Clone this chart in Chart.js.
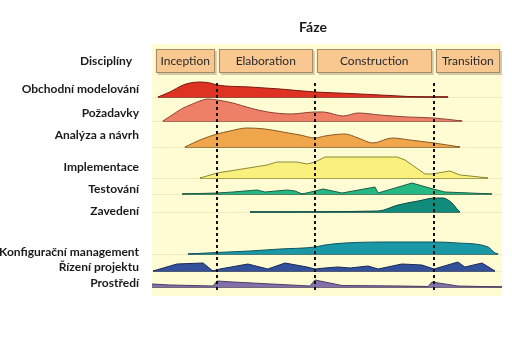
<!DOCTYPE html>
<html>
<head>
<meta charset="utf-8">
<script src="https://cdn.jsdelivr.net/npm/chart.js@4.4.1/dist/chart.umd.min.js"></script>
<style>
  html, body { margin: 0; padding: 0; background: #ffffff; }
  canvas { display: block; }
</style>
</head>
<body>
<canvas id="rup" width="512" height="341"></canvas>
<script>
// Phases of the project timeline (time in % of the project)
const phases = ['Inception', 'Elaboration', 'Construction', 'Transition'];
const phaseBounds = [0.5, 18.5, 46.5, 80.5, 100];

// Disciplines (rows)
const disciplines = [
  'Obchodní modelování', 'Požadavky', 'Analýza a návrh', 'Implementace',
  'Testování', 'Zavedení', 'Konfigurační management', 'Řízení projektu', 'Prostředí'
];

// Effort curves: time points and effort at each point
const obchodniT = [1.7, 5.1, 8.9, 10.9, 13.7, 16.6, 18.6, 28, 36.6, 46.6, 56.6, 68, 78, 84.6];
const obchodniH = [0, 0.5, 1.2, 1.4, 1.5, 1.4, 1.2, 1.0, 0.8, 0.5, 0.35, 0.15, 0, 0];

const pozadavkyT = [3.1, 6.6, 8.9, 10.9, 13.7, 16, 18.6, 23.1, 28, 33.1, 39.7, 46.6, 48.9, 54.6, 58.9, 65.1, 73.1, 80.6, 88.6];
const pozadavkyH = [0, 0.8, 1.3, 1.6, 2.0, 2.2, 2.1, 1.8, 1.3, 0.9, 0.7, 0.9, 0.9, 0.5, 0.8, 0.6, 0.4, 0.3, 0];

const analyzaT = [9.4, 13.7, 18.6, 22.3, 27.1, 32.3, 37.4, 42.3, 46.6, 49.4, 55.1, 58.9, 63.1, 68.6, 73.7, 80.6, 88];
const analyzaH = [0, 0.7, 1.3, 1.6, 1.9, 1.8, 1.5, 1.2, 0.9, 1.1, 1.3, 0.9, 0.4, 0.9, 0.7, 0.4, 0];

const implementaceT = [13.7, 18.6, 32.9, 35.7, 41.4, 44.3, 46.6, 49.4, 70, 72.3, 78, 80, 85.1, 88, 90.9, 96];
const implementaceH = [0, 0.5, 1.3, 1.6, 1.6, 1.4, 1.6, 2.1, 2.1, 1.8, 0.4, 0.4, 0.7, 0.3, 0.2, 0];

const testovaniT = [8.6, 18.6, 23.1, 30, 32.3, 38.6, 40.9, 42.9, 46.6, 48.9, 54.3, 63.7, 64.6, 74.3, 80.3, 83.7, 90.9, 97.1];
const testovaniH = [0, 0.1, 0.2, 0.4, 0.2, 0.4, 0.3, 0, 0.3, 0.5, 0.1, 0.7, 0.1, 1.1, 0.5, 0.2, 0.1, 0];

const zavedeniT = [28, 64.6, 70.3, 76, 80.9, 83.1, 85.7, 87.4, 88];
const zavedeniH = [0, 0.1, 0.7, 1.1, 1.4, 1.4, 0.9, 0.2, 0];

const konfiguraceT = [10.3, 18.6, 28, 36.6, 46.6, 49.4, 55.1, 68.6, 80.6, 87.4, 96, 98, 98.9];
const konfiguraceH = [0, 0.15, 0.3, 0.5, 0.7, 0.9, 1.1, 1.2, 1.2, 1.1, 0.7, 0.1, 0];

const rizeniT = [0.3, 7.1, 14.6, 17.4, 19.4, 27.4, 33.1, 38, 44.3, 46.6, 49.4, 53.1, 56.6, 61.7, 64.6, 71.4, 77.1, 80.6, 87.4, 89.4, 94.3, 98];
const rizeniH = [0, 0.7, 0.8, 0, 0.2, 0.7, 0.2, 0.8, 0.4, 0.2, 0.3, 0.4, 0.3, 0.5, 0.2, 0.7, 0.6, 0.2, 0.9, 0.4, 0.8, 0];

const prostrediT = [0, 5.1, 17.4, 18.6, 23.1, 45.1, 46.6, 49.4, 54.3, 70.9, 78.9, 80, 83.7, 87.4, 100];
const prostrediH = [0.3, 0.2, 0.1, 0.6, 0.5, 0.1, 0.7, 0.5, 0.15, 0.1, 0.05, 0.5, 0.3, 0.1, 0];

const curveTimes = [obchodniT, pozadavkyT, analyzaT, implementaceT, testovaniT, zavedeniT, konfiguraceT, rizeniT, prostrediT];
const curveEffort = [obchodniH, pozadavkyH, analyzaH, implementaceH, testovaniH, zavedeniH, konfiguraceH, rizeniH, prostrediH];

// Layout: vertical level of each row's baseline and its label
const rowBase = [19.9, 17.5, 14.9, 11.8, 10.2, 8.4, 4.2, 2.5, 0.9];
const labelLevel = [20.7, 18.3, 16.1, 12.9, 10.7, 8.5, 4.4, 2.9, 1.3];
const headerLevel = 23.5;
const phaseBoxTop = 24.7, phaseBoxBottom = 22.3;
const dashTop = 21.3, dashBottom = 0.4;

// Styles
const fills = ['#de3222', '#ee8068', '#f0a64a', '#f9f07e', '#26b882', '#118c7c', '#1a98a6', '#33509a', '#8270aa'];
const edges = ['#7a1a10', '#8e4434', '#8a5a22', '#8c8a34', '#1a5e44', '#0b4e46', '#0e5662', '#1a2a58', '#473e62'];
const smooth = [true, true, true, false, false, true, true, false, false];

const datasets = [];
disciplines.forEach((name, i) => {
  const base = rowBase[i];
  const t = curveTimes[i], h = curveEffort[i];
  datasets.push({
    label: name,
    data: t.map((x, j) => ({ x, y: base + h[j] })),
    fill: { value: base },
    backgroundColor: fills[i],
    borderColor: edges[i],
    borderWidth: 1,
    pointRadius: 0,
    cubicInterpolationMode: smooth[i] ? 'monotone' : 'default',
    tension: 0
  });
  datasets.push({
    label: name + ' (baseline)',
    data: [{ x: t[0], y: base }, { x: t[t.length - 1], y: base }],
    fill: false,
    borderColor: edges[i],
    borderWidth: 1.3,
    pointRadius: 0
  });
});

const FONT = 'Lato, "Liberation Sans", sans-serif';

const rupDecor = {
  id: 'rupDecor',
  beforeDraw(chart) {
    const { ctx, chartArea: a, scales: { y } } = chart;
    ctx.save();
    ctx.fillStyle = '#ffffff';
    ctx.fillRect(0, 0, chart.width, chart.height);
    ctx.fillStyle = '#fffcd4';
    ctx.fillRect(a.left, a.top, a.right - a.left, a.bottom - a.top);
    // faint guide lines at each row baseline
    ctx.strokeStyle = '#efebc0';
    ctx.lineWidth = 1;
    rowBase.forEach(b => {
      const py = Math.round(y.getPixelForValue(b)) + 0.5;
      ctx.beginPath();
      ctx.moveTo(a.left, py);
      ctx.lineTo(a.right, py);
      ctx.stroke();
    });
    // phase header boxes
    const top = y.getPixelForValue(phaseBoxTop), bot = y.getPixelForValue(phaseBoxBottom);
    const x = chart.scales.x;
    phases.forEach((p, i) => {
      const l = x.getPixelForValue(phaseBounds[i]) + 2;
      const r = x.getPixelForValue(phaseBounds[i + 1]) - 2;
      ctx.fillStyle = 'rgba(120,110,90,0.35)';
      ctx.fillRect(l + 2, top + 2, r - l, bot - top);
      ctx.fillStyle = '#f8c890';
      ctx.fillRect(l, top, r - l, bot - top);
      ctx.strokeStyle = '#a88a66';
      ctx.lineWidth = 1;
      ctx.strokeRect(Math.round(l) + 0.5, Math.round(top) + 0.5, Math.round(r - l) - 1, Math.round(bot - top) - 1);
      ctx.fillStyle = '#2a2a2a';
      ctx.font = '12px ' + FONT;
      ctx.textAlign = 'center';
      ctx.textBaseline = 'middle';
      ctx.fillText(p, (l + r) / 2, (top + bot) / 2);
    });
    ctx.restore();
  },
  afterDatasetsDraw(chart) {
    const { ctx, scales: { x, y } } = chart;
    ctx.save();
    ctx.strokeStyle = '#111111';
    ctx.lineWidth = 2;
    ctx.setLineDash([3, 3]);
    phaseBounds.slice(1, -1).forEach(b => {
      const px = Math.round(x.getPixelForValue(b));
      ctx.beginPath();
      ctx.moveTo(px, y.getPixelForValue(dashTop));
      ctx.lineTo(px, y.getPixelForValue(dashBottom));
      ctx.stroke();
    });
    ctx.restore();
  },
  afterDraw(chart) {
    const { ctx, chartArea: a, scales: { y } } = chart;
    ctx.save();
    ctx.fillStyle = '#1a1a1a';
    ctx.textBaseline = 'middle';
    ctx.textAlign = 'center';
    ctx.font = 'bold 14px ' + FONT;
    ctx.fillText('Fáze', (a.left + a.right) / 2 - 14, 27);
    ctx.textAlign = 'right';
    ctx.font = 'bold 12px ' + FONT;
    const lx = a.left - 13;
    ctx.fillText('Disciplíny', lx - 7, y.getPixelForValue(headerLevel));
    disciplines.forEach((d, i) => {
      ctx.fillText(d, lx, y.getPixelForValue(labelLevel[i]));
    });
    ctx.restore();
  }
};

new Chart(document.getElementById('rup'), {
  type: 'line',
  data: { datasets },
  options: {
    responsive: false,
    animation: false,
    devicePixelRatio: 1,
    layout: { padding: { left: 152, right: 10, top: 44, bottom: 45 } },
    scales: {
      x: { type: 'linear', min: 0, max: 100, display: false },
      y: { type: 'linear', min: 0, max: 25.2, display: false }
    },
    plugins: { legend: { display: false }, tooltip: { enabled: false } }
  },
  plugins: [rupDecor]
});
</script>
</body>
</html>
